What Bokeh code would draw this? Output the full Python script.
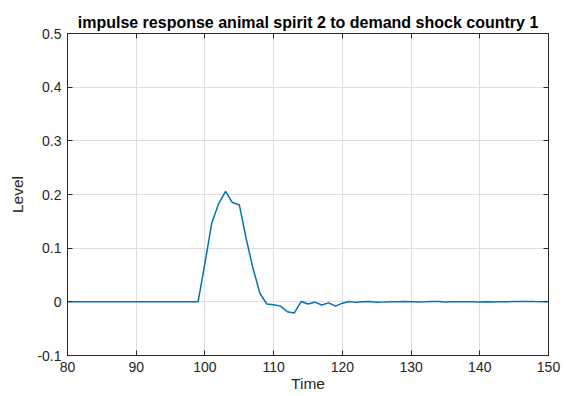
from bokeh.plotting import figure
from bokeh.models import LinearAxis, FixedTicker, Range1d
from bokeh.embed import file_html
from bokeh.resources import INLINE

time = list(range(80, 151))
level = [0.0] * 19 + [
    0.0,      # 99
    0.072,    # 100
    0.147,    # 101
    0.183,    # 102
    0.206,    # 103
    0.185,    # 104
    0.181,    # 105
    0.118,    # 106
    0.062,    # 107
    0.016,    # 108
    -0.004,   # 109
    -0.0056,  # 110
    -0.008,   # 111
    -0.0185,  # 112
    -0.021,   # 113
    0.0006,   # 114
    -0.004,   # 115
    -0.0006,  # 116
    -0.006,   # 117
    -0.002,   # 118
    -0.008,   # 119
    -0.0025,  # 120
    0.0006,   # 121
    -0.001,   # 122
    0.0,      # 123
    0.0006,   # 124
    -0.0006,  # 125
    -0.0004,  # 126
    0.0,      # 127
    0.0002,   # 128
    0.0005,   # 129
    0.0003,   # 130
    -0.0002,  # 131
    0.0,      # 132
    0.0004,   # 133
    0.0004,   # 134
    -0.0003,  # 135
    0.0,      # 136
    0.0003,   # 137
    0.0002,   # 138
    0.0003,   # 139
    -0.0002,  # 140
    0.0,      # 141
    -0.0002,  # 142
    0.0001,   # 143
    0.0003,   # 144
    0.0004,   # 145
    0.0005,   # 146
    0.0006,   # 147
    0.0004,   # 148
    0.0003,   # 149
    0.0,      # 150
]

x_ticks = [80, 90, 100, 110, 120, 130, 140, 150]
y_ticks = [-0.1, 0, 0.1, 0.2, 0.3, 0.4, 0.5]
y_tick_labels = {-0.1: "-0.1", 0: "0", 0.1: "0.1", 0.2: "0.2", 0.3: "0.3", 0.4: "0.4", 0.5: "0.5"}

FONT = "Liberation Sans"
AX = "#262626"

p = figure(width=566, height=396, output_backend="svg", toolbar_location=None,
           x_range=Range1d(80, 150), y_range=Range1d(-0.1, 0.5),
           title="impulse response animal spirit 2 to demand shock country 1")
p.min_border_left = 67
p.min_border_right = 18
p.min_border_top = 33
p.min_border_bottom = 41
p.background_fill_color = "white"
p.border_fill_color = "white"
p.outline_line_color = AX
p.outline_line_width = 1

p.title.text_font = FONT
p.title.text_font_size = "16px"
p.title.text_font_style = "bold"
p.title.align = "center"
p.title.text_color = "black"
p.title.standoff = 6

p.line(time, level, line_color="#0072BD", line_width=1.5)

p.xgrid.ticker = FixedTicker(ticks=x_ticks)
p.ygrid.ticker = FixedTicker(ticks=y_ticks)
for g in (p.xgrid[0], p.ygrid[0]):
    g.grid_line_color = "#dedede"
    g.grid_line_width = 1

xa = p.xaxis[0]
ya = p.yaxis[0]
xa.ticker = FixedTicker(ticks=x_ticks)
ya.ticker = FixedTicker(ticks=y_ticks)
ya.major_label_overrides = y_tick_labels
xa.axis_label = "Time"
ya.axis_label = "Level"
for a in (xa, ya):
    a.axis_line_color = AX
    a.major_tick_line_color = AX
    a.major_tick_in = 5
    a.major_tick_out = 0
    a.minor_tick_line_color = None
    a.major_label_text_font = FONT
    a.major_label_text_font_size = "14px"
    a.major_label_text_color = AX
    a.axis_label_text_font = FONT
    a.axis_label_text_font_size = "15.5px"
    a.axis_label_text_font_style = "normal"
    a.axis_label_text_color = AX
    a.major_label_standoff = 6
xa.axis_label_standoff = 0
ya.axis_label_standoff = 8

for loc in ("above", "right"):
    ax = LinearAxis(ticker=FixedTicker(ticks=x_ticks if loc == "above" else y_ticks))
    ax.axis_line_color = AX
    ax.major_tick_line_color = AX
    ax.major_tick_in = 5
    ax.major_tick_out = 0
    ax.minor_tick_line_color = None
    ax.major_label_text_font_size = "0px"
    ax.major_label_text_alpha = 0
    ax.major_label_standoff = 0
    p.add_layout(ax, loc)

open("out.html", "w").write(file_html(p, INLINE))
